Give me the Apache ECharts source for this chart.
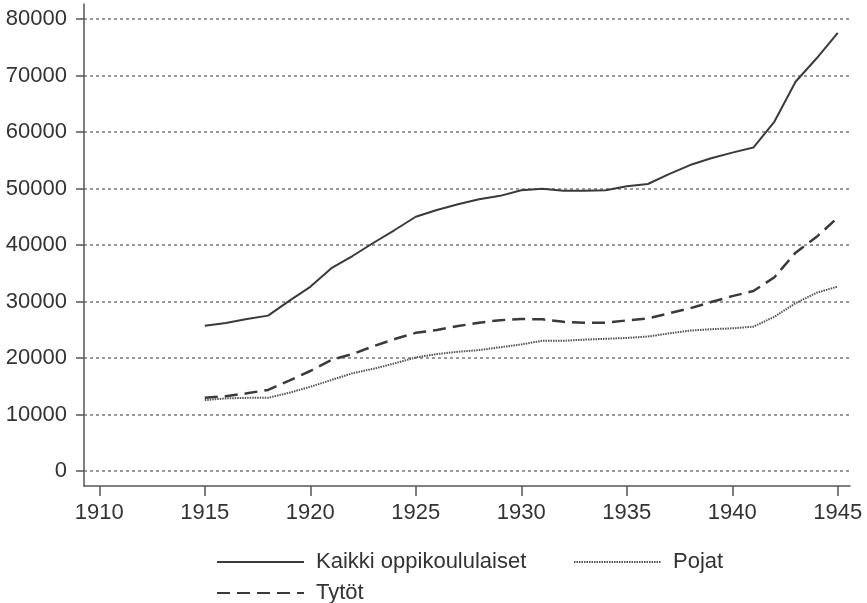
<!DOCTYPE html>
<html>
<head>
<meta charset="utf-8">
<script src="https://cdn.jsdelivr.net/npm/echarts@6/dist/echarts.min.js"></script>
<style>
  html, body { margin: 0; padding: 0; background: #fff; }
  #main { width: 867px; height: 603px; }
</style>
</head>
<body>
<div id="main"></div>
<script>
// vuodet ja oppilasmäärät
var years = [1915,1916,1917,1918,1919,1920,1921,1922,1923,1924,1925,1926,1927,1928,1929,1930,
             1931,1932,1933,1934,1935,1936,1937,1938,1939,1940,1941,1942,1943,1944,1945];
var kaikki = [25700,26200,26900,27500,30100,32600,35900,38050,40400,42650,45000,46200,47200,48100,48700,49700,
              49950,49600,49600,49700,50400,50800,52550,54150,55350,56350,57250,61850,68900,73050,77550];
var tytot = [12950,13250,13750,14350,16000,17700,19650,20700,22100,23350,24450,24950,25650,26250,26700,26900,
             26850,26400,26250,26250,26650,27000,27900,28800,29900,30950,31850,34300,38650,41450,44850];
var pojat = [12550,12850,12950,12950,13850,14900,16100,17300,18100,19050,20100,20700,21100,21400,21900,22400,
             23050,23050,23250,23400,23550,23800,24350,24850,25100,25250,25550,27300,29700,31550,32650];
var xTicks = [1910,1915,1920,1925,1930,1935,1940,1945];
var yTicks = [0,10000,20000,30000,40000,50000,60000,70000,80000];

function pairs(vals) {
	return years.map(function(y, i) { return [y, vals[i]]; });
}

var font = '"Liberation Sans", Arial, sans-serif';
var txt = '#333';

var myChart = echarts.init(document.getElementById('main'), null, { renderer: 'canvas' });

var legendBase = {
	orient: 'horizontal',
	itemWidth: 87,
	itemHeight: 14,
	itemStyle: { opacity: 0 },
	textStyle: { fontSize: 22, color: txt, fontFamily: font, padding: [0, 0, 0, 7] }
};

var option = {
	animation: false,
	backgroundColor: '#fff',
	grid: { left: 84, right: 17, top: 4, bottom: 117, containLabel: false },
	legend: [
		Object.assign({ left: 211, top: 546, data: ['Kaikki oppikoululaiset'] }, legendBase),
		Object.assign({ left: 568, top: 546, data: ['Pojat'] }, legendBase),
		Object.assign({ left: 211, top: 577, data: ['Tytöt'] }, legendBase)
	],
	xAxis: {
		type: 'value',
		min: 1909.275,
		max: 1945.58,
		axisLine: { show: true, onZero: false, lineStyle: { color: '#555', width: 1.5 } },
		axisTick: { show: true, customValues: xTicks, length: 10, lineStyle: { color: '#555', width: 1.5 } },
		axisLabel: {
			customValues: xTicks, margin: 16, fontSize: 22, color: txt, fontFamily: font,
			formatter: function(v) { return String(v); }
		},
		splitLine: { show: false }
	},
	yAxis: {
		type: 'value',
		min: -2655,
		max: 82655,
		axisLine: { show: true, onZero: false, lineStyle: { color: '#555', width: 1.5 } },
		axisTick: { show: true, customValues: yTicks, length: 8, lineStyle: { color: '#555', width: 1.5 } },
		axisLabel: {
			customValues: yTicks, margin: 17, fontSize: 22, color: txt, fontFamily: font,
			formatter: function(v) { return String(v); }
		},
		splitLine: { show: true, lineStyle: { color: '#7a7a7a', width: 1.5, type: [3, 3] } }
	},
	series: [
		{
			name: 'Kaikki oppikoululaiset',
			type: 'line',
			data: pairs(kaikki),
			symbol: 'none',
			lineStyle: { color: '#3a3a3a', width: 2 },
			itemStyle: { color: '#3a3a3a' }
		},
		{
			name: 'Tytöt',
			type: 'line',
			data: pairs(tytot),
			symbol: 'none',
			lineStyle: { color: '#3a3a3a', width: 2.5, type: [13, 7] },
			itemStyle: { color: '#3a3a3a' }
		},
		{
			name: 'Pojat',
			type: 'line',
			data: pairs(pojat),
			symbol: 'none',
			lineStyle: { color: '#555', width: 2, type: [1.5, 1] },
			itemStyle: { color: '#555' }
		}
	]
};

myChart.setOption(option);
</script>
</body>
</html>
